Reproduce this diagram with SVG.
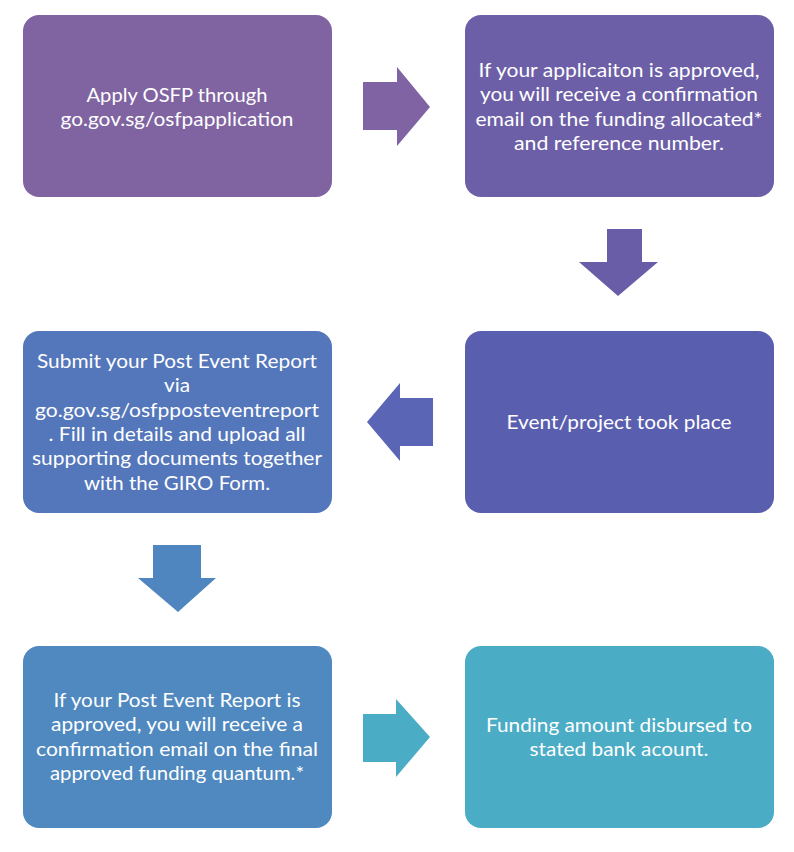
<svg xmlns="http://www.w3.org/2000/svg" width="794" height="852" viewBox="0 0 794 852">
<style>
.t{font-family:Lato,"Open Sans","Liberation Sans",sans-serif;font-size:20px;fill:#ffffff;text-anchor:middle}
</style>
<rect width="794" height="852" fill="#ffffff"/>
<g id="connectors">
<polygon points="363,82 397,82 397,67 430,107 397,146 397,130 363,130" fill="#7F63A3"/>
<polygon points="607,229 642,229 642,262 658,262 618,296 579,262 607,262" fill="#6A5DA8"/>
<polygon points="433,398 400,398 400,383 367,422 400,461 400,446 433,446" fill="#5A66B5"/>
<polygon points="153,545 201,545 201,578 216,578 178,612 138,578 153,578" fill="#4F86C0"/>
<polygon points="363,714 396,714 396,699 430,737 396,777 396,762 363,762" fill="#4BACC6"/>
</g>
<g id="node1">
<rect x="23" y="15" width="309" height="182" rx="16" fill="#8064A2"/>
<text class="t" x="177" y="101.5" textLength="181" lengthAdjust="spacingAndGlyphs">Apply OSFP through</text>
<text class="t" x="177" y="125.5" textLength="233" lengthAdjust="spacingAndGlyphs">go.gov.sg/osfpapplication</text>
</g>
<g id="node2">
<rect x="465" y="15" width="309" height="182" rx="16" fill="#6C5FA7"/>
<text class="t" x="619" y="77" textLength="281" lengthAdjust="spacingAndGlyphs">If your applicaiton is approved,</text>
<text class="t" x="619" y="101.3" textLength="278" lengthAdjust="spacingAndGlyphs">you will receive a confirmation</text>
<text class="t" x="619" y="125.6" textLength="287" lengthAdjust="spacingAndGlyphs">email on the funding allocated*</text>
<text class="t" x="619" y="150" textLength="210" lengthAdjust="spacingAndGlyphs">and reference number.</text>
</g>
<g id="node3">
<rect x="465" y="331" width="309" height="182" rx="16" fill="#5A5EAF"/>
<text class="t" x="619" y="429" textLength="225" lengthAdjust="spacingAndGlyphs">Event/project took place</text>
</g>
<g id="node4">
<rect x="23" y="331" width="309" height="182" rx="16" fill="#5476BB"/>
<text class="t" x="177" y="368" textLength="280" lengthAdjust="spacingAndGlyphs">Submit your Post Event Report</text>
<text class="t" x="177" y="392.3" textLength="26" lengthAdjust="spacingAndGlyphs">via</text>
<text class="t" x="177" y="416.6" textLength="284" lengthAdjust="spacingAndGlyphs">go.gov.sg/osfpposteventreport</text>
<text class="t" x="177" y="441" textLength="257" lengthAdjust="spacingAndGlyphs">. Fill in details and upload all</text>
<text class="t" x="177" y="465.3" textLength="290" lengthAdjust="spacingAndGlyphs">supporting documents together</text>
<text class="t" x="177" y="489.6" textLength="186" lengthAdjust="spacingAndGlyphs">with the GIRO Form.</text>
</g>
<g id="node5">
<rect x="23" y="646" width="309" height="182" rx="16" fill="#4F89C0"/>
<text class="t" x="177" y="707" textLength="247" lengthAdjust="spacingAndGlyphs">If your Post Event Report is</text>
<text class="t" x="177" y="731.3" textLength="252" lengthAdjust="spacingAndGlyphs">approved, you will receive a</text>
<text class="t" x="177" y="755.6" textLength="282" lengthAdjust="spacingAndGlyphs">confirmation email on the final</text>
<text class="t" x="177" y="780" textLength="254" lengthAdjust="spacingAndGlyphs">approved funding quantum.*</text>
</g>
<g id="node6">
<rect x="465" y="646" width="309" height="182" rx="16" fill="#4BACC6"/>
<text class="t" x="619" y="732" textLength="266" lengthAdjust="spacingAndGlyphs">Funding amount disbursed to</text>
<text class="t" x="619" y="756.3" textLength="179" lengthAdjust="spacingAndGlyphs">stated bank acount.</text>
</g>
</svg>
